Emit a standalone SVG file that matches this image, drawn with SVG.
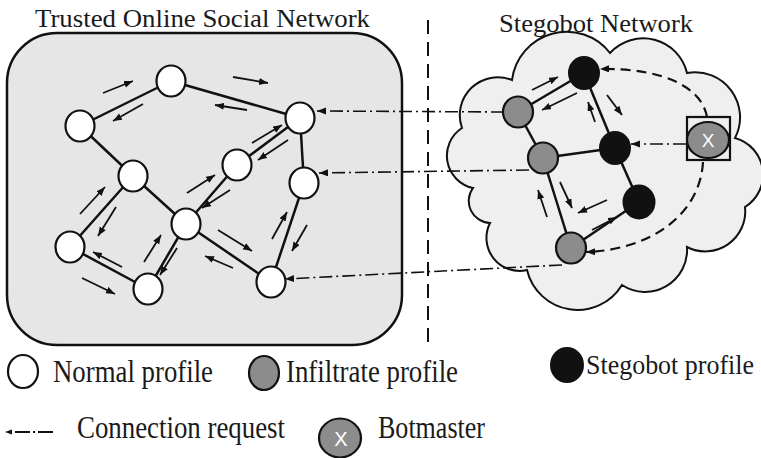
<svg xmlns="http://www.w3.org/2000/svg" width="761" height="458" viewBox="0 0 761 458">
<defs>
<marker id="ah" markerUnits="userSpaceOnUse" markerWidth="10" markerHeight="8" refX="9" refY="3.5" orient="auto"><path d="M0,0 L9,3.5 L0,7 z" fill="#111"/></marker>
<marker id="ah2" markerUnits="userSpaceOnUse" markerWidth="10" markerHeight="8" refX="9" refY="3.5" orient="auto"><path d="M0,0 L9,3.5 L0,7 z" fill="#111"/></marker>
</defs>
<style>
.t{font-family:"Liberation Serif","Times New Roman",serif;fill:#1a1a1a}
.edge{stroke:#111;stroke-width:2.5;fill:none}
.sa{stroke:#111;stroke-width:1.8;fill:none;marker-end:url(#ah)}
.req{stroke:#111;stroke-width:1.6;fill:none;stroke-dasharray:13 4 2 4;marker-end:url(#ah2)}
.dash{stroke:#111;stroke-width:2.2;fill:none;stroke-dasharray:10 6;marker-end:url(#ah2)}
.nw{fill:#fff;stroke:#111;stroke-width:2.2}
.ng{fill:#8c8c8c;stroke:#111;stroke-width:2.2}
.nb{fill:#111;stroke:#111;stroke-width:2}
.x{font-family:"Liberation Sans",Arial,sans-serif;fill:#fff;text-anchor:middle}
</style>
<rect width="761" height="458" fill="#fff"/>
<text class="t" x="35" y="27" font-size="26" textLength="335" lengthAdjust="spacingAndGlyphs">Trusted Online Social Network</text>
<text class="t" x="499" y="32" font-size="26" textLength="194" lengthAdjust="spacingAndGlyphs">Stegobot Network</text>
<g id="osn-frame"><rect x="7" y="33" width="395" height="312" rx="50" ry="50" fill="#e6e6e6" stroke="#111" stroke-width="2.5"/></g>
<g id="divider"><line x1="428" y1="20" x2="428" y2="345" stroke="#111" stroke-width="2" stroke-dasharray="14 8"/></g>
<g id="cloud"><path d="M462,128 A38,38 0 0 1 512,80 A55,55 0 0 1 610,53 A45,45 0 0 1 687,73 A45,45 0 0 1 735,138 A38,38 0 0 1 745,207 A40,40 0 0 1 687,247 A42,42 0 0 1 622,285 A52,52 0 0 1 527,270 A33,33 0 0 1 490,223 A22,22 0 0 1 473,188 A33,33 0 0 1 462,128 Z" fill="#efefef" stroke="#111" stroke-width="2"/></g>
<g id="connectors">
<line class="edge" x1="80" y1="126" x2="171" y2="81"/>
<line class="edge" x1="171" y1="81" x2="300" y2="118"/>
<line class="edge" x1="80" y1="126" x2="133" y2="176"/>
<line class="edge" x1="133" y1="176" x2="70" y2="247"/>
<line class="edge" x1="133" y1="176" x2="186" y2="224"/>
<line class="edge" x1="70" y1="247" x2="148" y2="289"/>
<line class="edge" x1="148" y1="289" x2="186" y2="224"/>
<line class="edge" x1="186" y1="224" x2="237" y2="165"/>
<line class="edge" x1="237" y1="165" x2="300" y2="118"/>
<line class="edge" x1="300" y1="118" x2="304" y2="183"/>
<line class="edge" x1="304" y1="183" x2="271" y2="282"/>
<line class="edge" x1="186" y1="224" x2="271" y2="282"/>
<line class="edge" x1="518" y1="112" x2="584" y2="73"/>
<line class="edge" x1="584" y1="73" x2="615" y2="148"/>
<line class="edge" x1="518" y1="112" x2="543" y2="158"/>
<line class="edge" x1="543" y1="158" x2="615" y2="148"/>
<line class="edge" x1="615" y1="148" x2="639" y2="202"/>
<line class="edge" x1="543" y1="158" x2="571" y2="248"/>
<line class="edge" x1="571" y1="248" x2="639" y2="202"/>
<line class="sa" x1="103" y1="93" x2="133" y2="81"/>
<line class="sa" x1="143" y1="104" x2="113" y2="121"/>
<line class="sa" x1="233" y1="77" x2="268" y2="83"/>
<line class="sa" x1="247" y1="110" x2="215" y2="105"/>
<line class="sa" x1="252" y1="143" x2="282" y2="125"/>
<line class="sa" x1="288" y1="140" x2="258" y2="160"/>
<line class="sa" x1="187" y1="193" x2="215" y2="175"/>
<line class="sa" x1="230" y1="190" x2="202" y2="208"/>
<line class="sa" x1="80" y1="214" x2="105" y2="187"/>
<line class="sa" x1="116" y1="207" x2="98" y2="236"/>
<line class="sa" x1="122" y1="267" x2="93" y2="252"/>
<line class="sa" x1="82" y1="278" x2="115" y2="294"/>
<line class="sa" x1="144" y1="262" x2="161" y2="235"/>
<line class="sa" x1="177" y1="248" x2="160" y2="275"/>
<line class="sa" x1="218" y1="230" x2="252" y2="251"/>
<line class="sa" x1="233" y1="268" x2="205" y2="256"/>
<line class="sa" x1="272" y1="239" x2="287" y2="212"/>
<line class="sa" x1="307" y1="225" x2="292" y2="251"/>
<line class="sa" x1="532" y1="90" x2="558" y2="77"/>
<line class="sa" x1="577" y1="93" x2="542" y2="110"/>
<line class="sa" x1="595" y1="122" x2="588" y2="102"/>
<line class="sa" x1="607" y1="95" x2="622" y2="115"/>
<line class="sa" x1="560" y1="182" x2="572" y2="208"/>
<line class="sa" x1="547" y1="217" x2="538" y2="190"/>
<line class="sa" x1="607" y1="200" x2="578" y2="213"/>
<line class="sa" x1="592" y1="230" x2="617" y2="217"/>
<path class="req" d="M504,112 L317,111"/>
<path class="req" d="M529,170 L319,173"/>
<path class="req" d="M562,265 L285,279"/>
<path class="req" d="M686,144 L631,144"/>
<path class="dash" d="M707,117 C702,88 665,68 600,69"/>
<path class="dash" d="M703,162 C700,215 650,250 586,252"/>
</g>
<g id="n1"><ellipse class="nw" cx="171" cy="81" rx="14.5" ry="15.5"/></g>
<g id="n2"><ellipse class="nw" cx="80" cy="126" rx="14.5" ry="15.5"/></g>
<g id="n3"><ellipse class="nw" cx="300" cy="118" rx="14.5" ry="15.5"/></g>
<g id="n4"><ellipse class="nw" cx="133" cy="176" rx="14.5" ry="15.5"/></g>
<g id="n5"><ellipse class="nw" cx="237" cy="165" rx="14.5" ry="15.5"/></g>
<g id="n6"><ellipse class="nw" cx="304" cy="183" rx="14.5" ry="15.5"/></g>
<g id="n7"><ellipse class="nw" cx="186" cy="224" rx="14.5" ry="15.5"/></g>
<g id="n8"><ellipse class="nw" cx="70" cy="247" rx="14.5" ry="15.5"/></g>
<g id="n9"><ellipse class="nw" cx="148" cy="289" rx="14.5" ry="15.5"/></g>
<g id="n10"><ellipse class="nw" cx="271" cy="282" rx="14.5" ry="15.5"/></g>
<g id="s1"><ellipse class="nb" cx="584" cy="73" rx="15" ry="16"/></g>
<g id="s2"><ellipse class="nb" cx="615" cy="148" rx="15" ry="16"/></g>
<g id="s3"><ellipse class="nb" cx="639" cy="202" rx="15.5" ry="16.5"/></g>
<g id="i1"><ellipse class="ng" cx="518" cy="112" rx="15" ry="15.5"/></g>
<g id="i2"><ellipse class="ng" cx="543" cy="158" rx="15" ry="15.5"/></g>
<g id="i3"><ellipse class="ng" cx="571" cy="248" rx="15" ry="15.5"/></g>
<g id="botmaster"><rect x="687" y="117" width="43" height="43" fill="none" stroke="#111" stroke-width="2.2"/><ellipse class="ng" cx="708" cy="140" rx="21" ry="18"/><text class="x" x="708" y="147" font-size="19">X</text></g>
<g id="legend">
<ellipse class="nw" cx="23" cy="371.5" rx="15" ry="16.5" stroke-width="2.5"/>
<text class="t" x="53" y="382" font-size="31" textLength="160" lengthAdjust="spacingAndGlyphs">Normal profile</text>
<ellipse class="ng" cx="264" cy="373" rx="15" ry="17" stroke-width="2.5"/>
<text class="t" x="286" y="382" font-size="31" textLength="172" lengthAdjust="spacingAndGlyphs">Infiltrate profile</text>
<ellipse class="nb" cx="567" cy="365" rx="16" ry="17"/>
<text class="t" x="586" y="374" font-size="26.5" textLength="168" lengthAdjust="spacingAndGlyphs">Stegobot profile</text>
<path d="M5,432 L12,429.5 L12,434.5 z" fill="#111"/>
<line x1="15" y1="432" x2="30" y2="432" stroke="#111" stroke-width="2"/>
<line x1="33" y1="432" x2="35" y2="432" stroke="#111" stroke-width="2"/>
<line x1="38" y1="432" x2="53" y2="432" stroke="#111" stroke-width="2"/>
<text class="t" x="77" y="438" font-size="31" textLength="208" lengthAdjust="spacingAndGlyphs">Connection request</text>
<ellipse class="ng" cx="340" cy="438" rx="21" ry="19.5" stroke-width="2.5"/>
<text class="x" x="341" y="446" font-size="20">X</text>
<text class="t" x="378" y="438" font-size="31" textLength="107" lengthAdjust="spacingAndGlyphs">Botmaster</text>
</g>
</svg>
